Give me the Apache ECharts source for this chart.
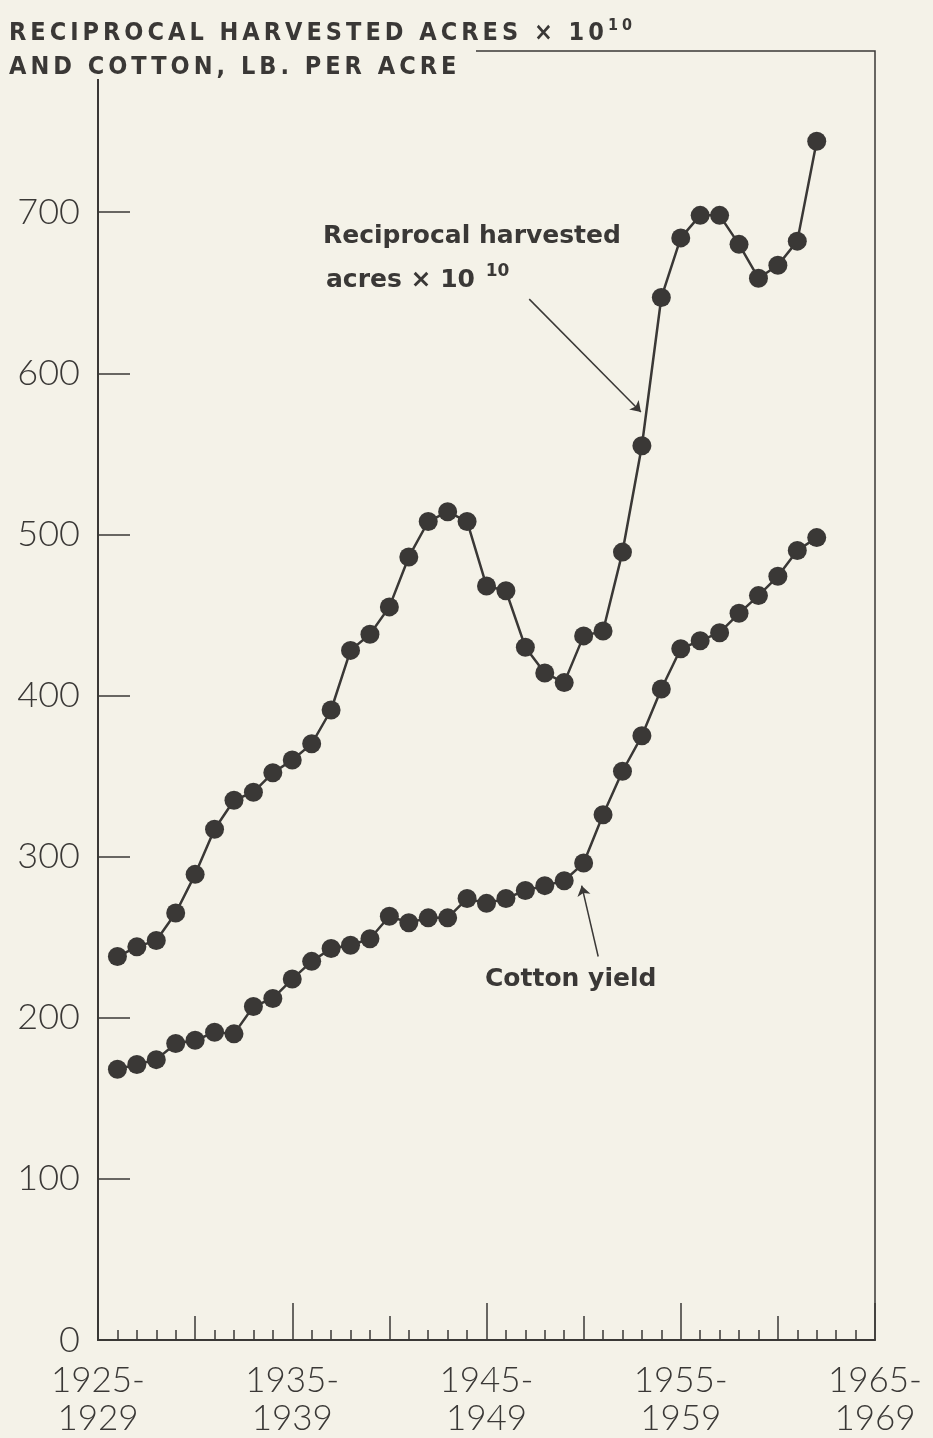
<!DOCTYPE html>
<html>
<head>
<meta charset="utf-8">
<script src="https://cdn.jsdelivr.net/npm/echarts@6/dist/echarts.min.js"></script>
<style>
  html, body { margin: 0; padding: 0; background: #f4f2e8; }
  #main { width: 933px; height: 1438px; }
</style>
</head>
<body>
<div id="main"></div>
<script>
// years 1926 .. 1962
let years = []
for (let y = 1926; y <= 1962; y++) years.push(y)

// reciprocal harvested acres x 10^10
let recipAcres = [238, 244, 248, 265, 289, 317, 335, 340, 352, 360,
    370, 391, 428, 438, 455, 486, 508, 514, 508, 468,
    465, 430, 414, 408, 437, 440, 489, 555, 647, 684,
    698, 698, 680, 659, 667, 682, 744]

// cotton yield, lb per acre
let cottonYield = [168, 171, 174, 184, 186, 191, 190, 207, 212, 224,
    235, 243, 245, 249, 263, 259, 262, 262, 274, 271,
    274, 279, 282, 285, 296, 326, 353, 375, 404, 429,
    434, 439, 451, 462, 474, 490, 498]

let xTicks = [1925, 1935, 1945, 1955, 1965]
let yTicks = [0, 100, 200, 300, 400, 500, 600, 700]

// arrow pointers (data coords)
let recipArrow = [[1947.2, 646], [1952.95, 576]]
let cottonArrow = [[1950.75, 238], [1949.9, 282]]

let ink = '#3a3836'
let bg = '#f4f2e8'
let numFont = 'Lato'
let titleFont = 'DejaVu Sans Condensed' // drawn letter-spaced, see below

// the old plate title is widely letter-spaced; canvas can do that natively
;(function () {
    let proto = CanvasRenderingContext2D.prototype
    let desc = Object.getOwnPropertyDescriptor(proto, 'font')
    if (!desc || !('letterSpacing' in proto)) return
    Object.defineProperty(proto, 'font', {
        configurable: true,
        get: desc.get,
        set: function (v) {
            desc.set.call(this, v)
            this.letterSpacing = v.indexOf(titleFont) >= 0 ? '4px' : '0px'
        }
    })
})()

var chartDom = document.getElementById('main')
var myChart = echarts.init(chartDom)

function pairs(vals) {
    return vals.map(function (v, i) { return [years[i], v] })
}

function tickAxis(interval, len) {
    return {
        type: 'value', min: 1925, max: 1965, interval: interval, position: 'bottom', offset: 0,
        axisLine: { show: false, onZero: false },
        axisTick: { show: true, inside: true, length: len, lineStyle: { color: ink, width: 1.5 } },
        axisLabel: { show: false },
        splitLine: { show: false }
    }
}

var option = {
    backgroundColor: bg,
    animation: false,
    title: [
        {
            text: 'RECIPROCAL HARVESTED ACRES × 10{sup|10}',
            left: 4, top: 11,
            textStyle: {
                fontFamily: titleFont, fontWeight: 'bold', fontSize: 25, color: ink,
                rich: { sup: { fontFamily: titleFont, fontWeight: 'bold', fontSize: 16, color: ink, verticalAlign: 'top', padding: [0, 0, 14, 0] } }
            }
        },
        {
            text: 'AND COTTON, LB. PER ACRE',
            left: 4, top: 48,
            textStyle: { fontFamily: titleFont, fontWeight: 'bold', fontSize: 25, color: ink }
        }
    ],
    grid: {
        left: 98, right: 58, top: 51, bottom: 95,
        show: true, borderColor: ink, borderWidth: 1.5
    },
    xAxis: [
        {
            type: 'value', min: 1925, max: 1965, interval: 10, position: 'bottom',
            axisLine: { show: true, onZero: false, lineStyle: { color: ink, width: 2 } },
            axisTick: { show: true, inside: true, length: 37, lineStyle: { color: ink, width: 1.5 } },
            axisLabel: {
                margin: 22, fontFamily: numFont, fontWeight: 300, fontSize: 35, color: ink, lineHeight: 38,
                formatter: function (v) { return xTicks.indexOf(v) >= 0 ? v + '-\n' + (v + 4) : '' }
            },
            splitLine: { show: false }
        },
        tickAxis(5, 24),
        tickAxis(1, 10)
    ],
    yAxis: {
        type: 'value', min: 0, max: 800, interval: 100,
        axisLine: { show: true, lineStyle: { color: ink, width: 2 } },
        axisTick: { show: true, inside: true, length: 32, lineStyle: { color: ink, width: 1.5 } },
        axisLabel: {
            margin: 18, fontFamily: numFont, fontWeight: 300, fontSize: 36, color: ink,
            formatter: function (v) { return yTicks.indexOf(v) >= 0 ? String(v) : '' }
        },
        splitLine: { show: false }
    },
    graphic: [
        {
            type: 'rect', z: 5,
            shape: { x: 0, y: 44, width: 476, height: 35 },
            style: { fill: bg }
        },
        {
            type: 'text', left: 323, top: 224, z: 10,
            style: { text: 'Reciprocal harvested', fontFamily: 'DejaVu Sans', fontWeight: 'bold', fontSize: 25, fill: ink }
        },
        {
            type: 'text', left: 326, top: 263, z: 10,
            style: {
                text: 'acres × 10 {sup|10}', fontFamily: 'DejaVu Sans', fontWeight: 'bold', fontSize: 25, fill: ink,
                rich: { sup: { fontFamily: 'DejaVu Sans', fontWeight: 'bold', fontSize: 17, fill: ink, verticalAlign: 'top', padding: [0, 0, 18, 2] } }
            }
        },
        {
            type: 'text', left: 485, top: 967, z: 10,
            style: { text: 'Cotton yield', fontFamily: 'DejaVu Sans', fontWeight: 'bold', fontSize: 25, fill: ink }
        }
    ],
    series: [
        {
            name: 'Reciprocal harvested acres',
            type: 'line',
            data: pairs(recipAcres),
            symbol: 'circle', symbolSize: 19,
            itemStyle: { color: ink },
            lineStyle: { color: ink, width: 2.5 },
            markLine: {
                silent: true, symbol: ['none', 'arrow'], symbolSize: 10,
                label: { show: false },
                lineStyle: { color: ink, width: 1.5, type: 'solid' },
                data: [[{ coord: recipArrow[0] }, { coord: recipArrow[1] }]]
            }
        },
        {
            name: 'Cotton yield',
            type: 'line',
            data: pairs(cottonYield),
            symbol: 'circle', symbolSize: 19,
            itemStyle: { color: ink },
            lineStyle: { color: ink, width: 2.5 },
            markLine: {
                silent: true, symbol: ['none', 'arrow'], symbolSize: 10,
                label: { show: false },
                lineStyle: { color: ink, width: 1.5, type: 'solid' },
                data: [[{ coord: cottonArrow[0] }, { coord: cottonArrow[1] }]]
            }
        }
    ]
}
option && myChart.setOption(option)
</script>
</body>
</html>
